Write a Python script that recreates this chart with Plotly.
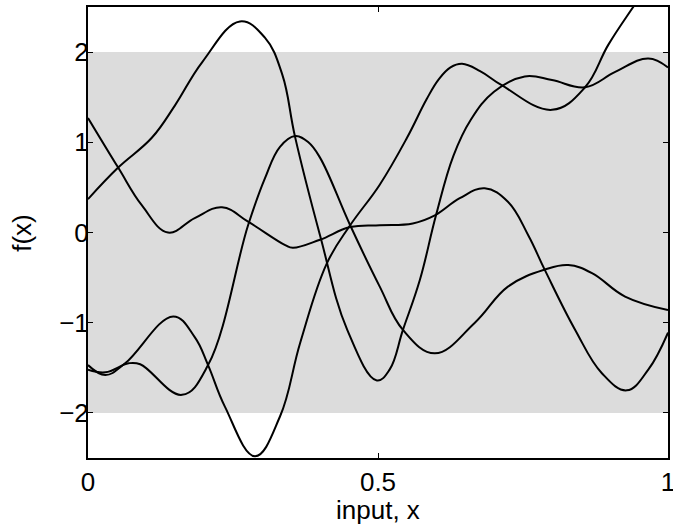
import plotly.graph_objects as go

# sample curves f(x)
x1 = [0, 0.052, 0.11, 0.15, 0.197, 0.262, 0.305, 0.335, 0.357, 0.40, 0.447, 0.498, 0.52, 0.543, 0.572, 0.60, 0.63, 0.66, 0.70, 0.753, 0.80, 0.857, 0.909, 0.966, 1.0]
y1 = [0.37, 0.72, 1.05, 1.41, 1.89, 2.34, 2.16, 1.75, 1.06, -0.03, -1.08, -1.64, -1.52, -1.08, -0.53, 0.19, 0.85, 1.25, 1.56, 1.73, 1.69, 1.61, 1.78, 1.93, 1.83]

x2 = [0, 0.052, 0.093, 0.138, 0.184, 0.231, 0.276, 0.34, 0.353, 0.40, 0.452, 0.503, 0.56, 0.598, 0.641, 0.684, 0.724, 0.759, 0.788, 0.84, 0.886, 0.929, 0.966, 1.0]
y2 = [1.27, 0.72, 0.30, 0.0, 0.16, 0.28, 0.12, -0.14, -0.17, -0.08, 0.06, 0.08, 0.10, 0.19, 0.38, 0.49, 0.34, -0.03, -0.42, -1.08, -1.56, -1.75, -1.52, -1.11]

x3 = [0, 0.03, 0.064, 0.147, 0.184, 0.207, 0.236, 0.288, 0.331, 0.366, 0.412, 0.452, 0.503, 0.55, 0.584, 0.605, 0.625, 0.645, 0.676, 0.714, 0.80, 0.857, 0.897, 0.94, 0.97, 1.0]
y3 = [-1.47, -1.58, -1.45, -0.93, -1.16, -1.47, -1.93, -2.48, -2.04, -1.22, -0.34, 0.08, 0.53, 1.05, 1.48, 1.70, 1.83, 1.87, 1.79, 1.63, 1.36, 1.61, 2.08, 2.5, 2.78, 3.0]

x4 = [0, 0.03, 0.07, 0.09, 0.162, 0.207, 0.276, 0.305, 0.331, 0.357, 0.38, 0.40, 0.452, 0.503, 0.543, 0.598, 0.667, 0.724, 0.788, 0.828, 0.869, 0.926, 1.0]
y4 = [-1.52, -1.55, -1.45, -1.46, -1.80, -1.47, 0.08, 0.60, 0.95, 1.07, 1.0, 0.83, 0.08, -0.60, -1.08, -1.34, -1.0, -0.60, -0.41, -0.36, -0.45, -0.71, -0.86]

band_lo, band_hi = -2, 2
x_ticks = [0, 0.5, 1]
x_tick_text = ["0", "0.5", "1"]
y_ticks = [-2, -1, 0, 1, 2]

fig = go.Figure()
for xs, ys in [(x1, y1), (x2, y2), (x3, y3), (x4, y4)]:
    fig.add_trace(go.Scatter(x=xs, y=ys, mode="lines",
                             line=dict(color="black", width=2, shape="spline", smoothing=1.15),
                             showlegend=False, hoverinfo="skip"))

fig.add_shape(type="rect", xref="x", yref="y", x0=0, x1=1, y0=band_lo, y1=band_hi,
              fillcolor="#dcdcdc", line=dict(width=0), layer="below")

font = dict(family="Liberation Sans, Arial, Helvetica, sans-serif", size=26, color="black")
fig.update_layout(
    width=673, height=529,
    margin=dict(l=88, r=5, t=7, b=71, autoexpand=False),
    paper_bgcolor="white", plot_bgcolor="white",
    font=font,
    xaxis=dict(range=[0, 1], tickvals=x_ticks, ticktext=x_tick_text, automargin=False,
               showgrid=False, zeroline=False, showline=True, linecolor="black", linewidth=2,
               mirror="ticks", ticks="inside", ticklen=5, tickwidth=1, tickcolor="black",
               ticklabeloverflow="allow"),
    yaxis=dict(range=[-2.5, 2.5], tickvals=y_ticks, automargin=False,
               showgrid=False, zeroline=False, showline=True, linecolor="black", linewidth=2,
               mirror="ticks", ticks="inside", ticklen=5, tickwidth=1, tickcolor="black",
               ticklabelstandoff=-8),
    annotations=[
        dict(text="input, x", xref="paper", yref="paper", x=0.5, y=-0.078,
             xanchor="center", yanchor="top", showarrow=False, font=font),
        dict(text="f(x)", xref="paper", yref="paper", x=-0.115, y=0.5, textangle=-90,
             xanchor="center", yanchor="middle", showarrow=False, font=font),
    ],
)

fig.write_html("out.html")
